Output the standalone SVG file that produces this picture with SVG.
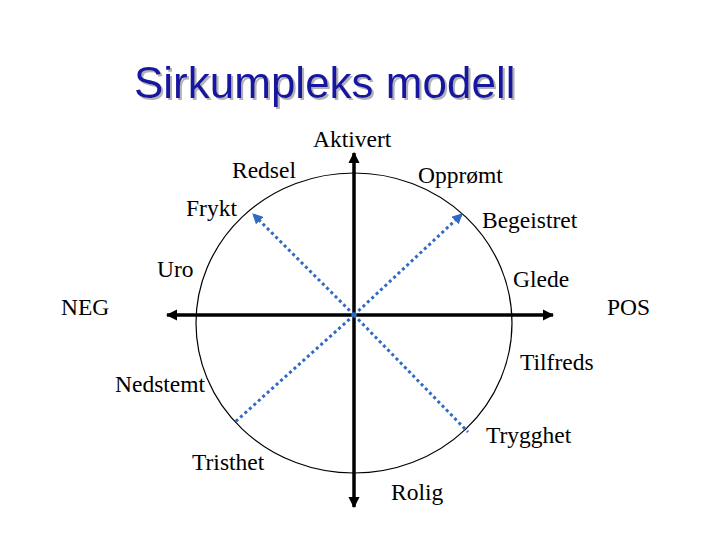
<svg xmlns="http://www.w3.org/2000/svg" width="720" height="540" viewBox="0 0 720 540">
<style>
.lbl{font-family:"Liberation Serif","Times New Roman",serif;font-size:23.5px;fill:#000}
.title{font-family:"Liberation Sans",Arial,sans-serif;font-size:44px;fill:#1414A0}
.axis{stroke:#000;stroke-width:3.5;fill:none}
.dot{stroke:#2F6BC4;stroke-width:3;stroke-dasharray:3 3;fill:none}
</style>
<defs>
<filter id="sh" x="-5%" y="-20%" width="110%" height="140%">
<feDropShadow dx="2" dy="2" stdDeviation="0.5" flood-color="#A0A0A0" flood-opacity="0.8"/>
</filter>
<marker id="ah" viewBox="0 0 10 10" refX="9" refY="5" markerWidth="3.2" markerHeight="3.2" orient="auto" markerUnits="strokeWidth">
<path d="M0,0 L10,5 L0,10 Z" fill="#000"/>
</marker>
<marker id="bh" viewBox="0 0 10 10" refX="9" refY="5" markerWidth="3.5" markerHeight="3.5" orient="auto" markerUnits="strokeWidth">
<path d="M0,0 L10,5 L0,10 Z" fill="#2F6BC4"/>
</marker>
</defs>
<rect width="720" height="540" fill="#fff"/>
<g id="title">
<text class="title" x="134" y="98" filter="url(#sh)">Sirkumpleks modell</text>
</g>
<g id="circle">
<ellipse cx="354" cy="323" rx="158" ry="150" fill="none" stroke="#000" stroke-width="1.2"/>
</g>
<g id="connectors">
<line class="axis" x1="354" y1="315" x2="354" y2="153" marker-end="url(#ah)"/>
<line class="axis" x1="354" y1="315" x2="354" y2="507" marker-end="url(#ah)"/>
<line class="axis" x1="354" y1="315" x2="167" y2="315" marker-end="url(#ah)"/>
<line class="axis" x1="354" y1="315" x2="553" y2="315" marker-end="url(#ah)"/>
<line class="dot" x1="354" y1="315" x2="253" y2="214" marker-end="url(#bh)"/>
<line class="dot" x1="354" y1="315" x2="462" y2="214" marker-end="url(#bh)"/>
<line class="dot" x1="354" y1="315" x2="235" y2="422"/>
<line class="dot" x1="354" y1="315" x2="468" y2="432"/>
</g>
<g id="labels">
<text class="lbl" x="313" y="147">Aktivert</text>
<text class="lbl" x="232" y="178">Redsel</text>
<text class="lbl" x="418" y="183">Opprømt</text>
<text class="lbl" x="186" y="216">Frykt</text>
<text class="lbl" x="482" y="228">Begeistret</text>
<text class="lbl" x="157" y="277">Uro</text>
<text class="lbl" x="513" y="287">Glede</text>
<text class="lbl" x="61" y="315">NEG</text>
<text class="lbl" x="607" y="315">POS</text>
<text class="lbl" x="520" y="370">Tilfreds</text>
<text class="lbl" x="115" y="392">Nedstemt</text>
<text class="lbl" x="486" y="443">Trygghet</text>
<text class="lbl" x="192" y="470">Tristhet</text>
<text class="lbl" x="391" y="500">Rolig</text>
</g>
</svg>
